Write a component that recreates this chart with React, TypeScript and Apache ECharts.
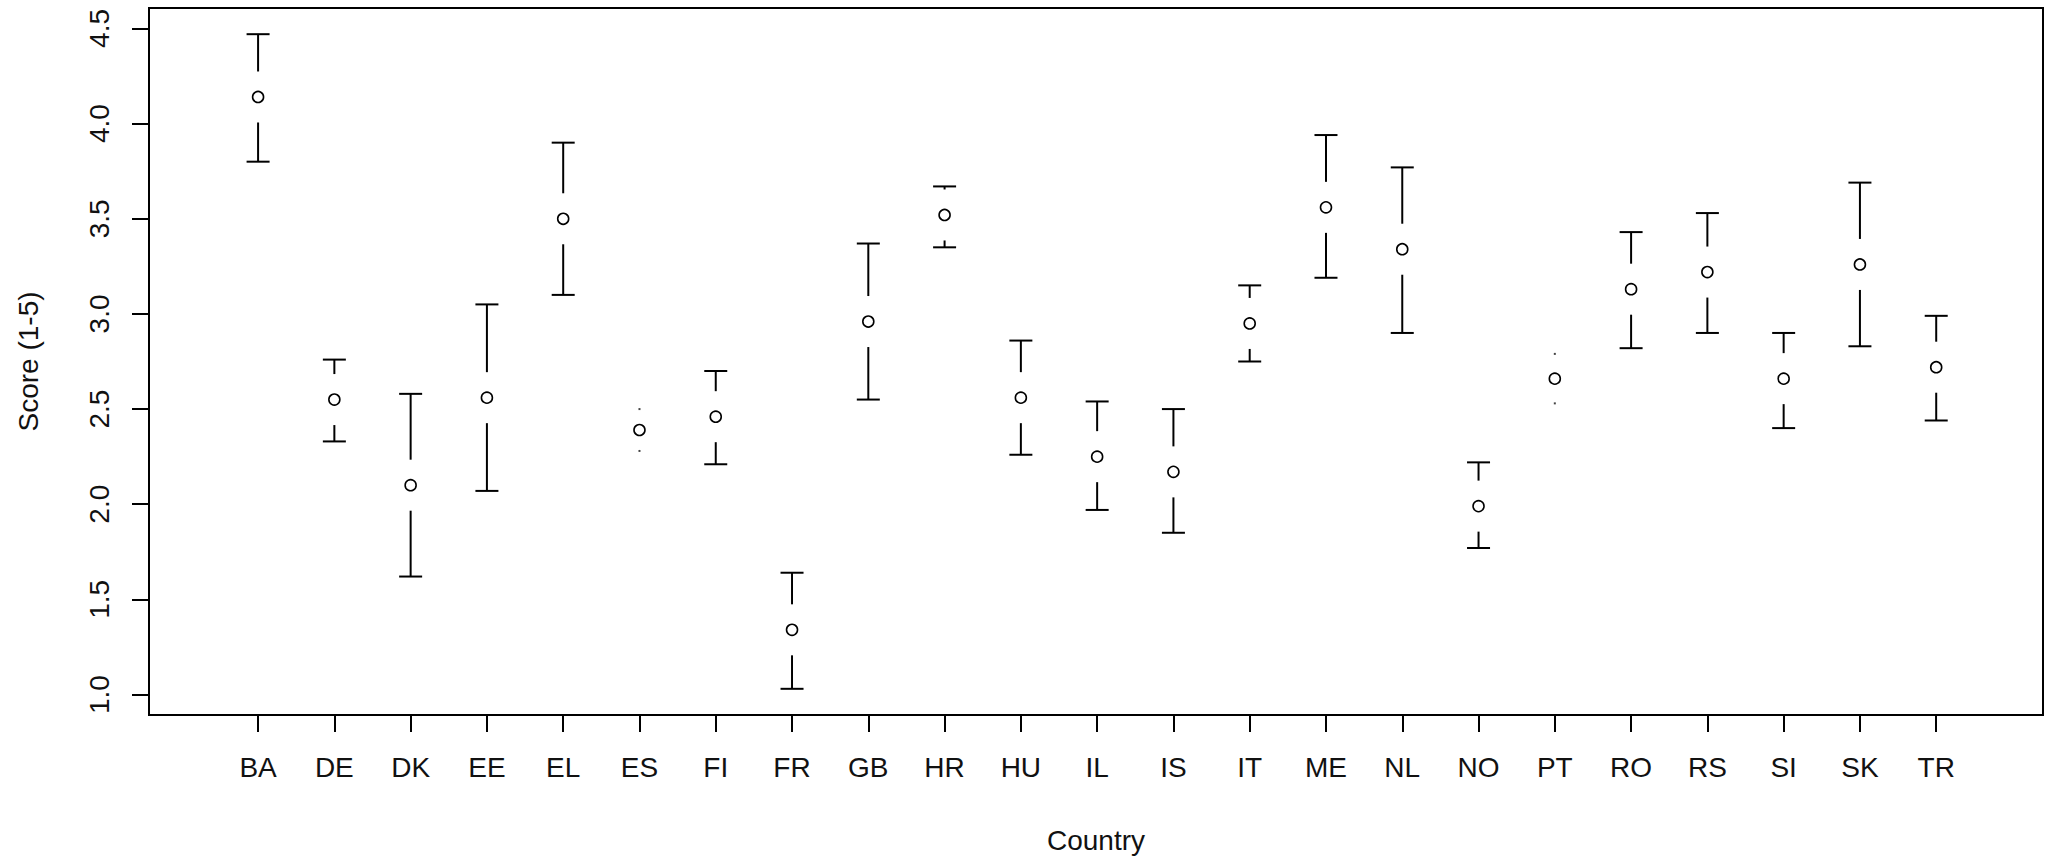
import React, { useEffect, useRef } from "react";
import * as echarts from "echarts";

const countries = ["BA", "DE", "DK", "EE", "EL", "ES", "FI", "FR", "GB", "HR", "HU", "IL", "IS", "IT", "ME", "NL", "NO", "PT", "RO", "RS", "SI", "SK", "TR"];
const means = [4.14, 2.55, 2.10, 2.56, 3.50, 2.39, 2.46, 1.34, 2.96, 3.52, 2.56, 2.25, 2.17, 2.95, 3.56, 3.34, 1.99, 2.66, 3.13, 3.22, 2.66, 3.26, 2.72];
const lowers = [3.80, 2.33, 1.62, 2.07, 3.10, 2.28, 2.21, 1.03, 2.55, 3.35, 2.26, 1.97, 1.85, 2.75, 3.19, 2.90, 1.77, 2.53, 2.82, 2.90, 2.40, 2.83, 2.44];
const uppers = [4.47, 2.76, 2.58, 3.05, 3.90, 2.50, 2.70, 1.64, 3.37, 3.67, 2.86, 2.54, 2.50, 3.15, 3.94, 3.77, 2.22, 2.79, 3.43, 3.53, 2.90, 3.69, 2.99];
const yTicks = [1.0, 1.5, 2.0, 2.5, 3.0, 3.5, 4.0, 4.5];
const xTitle = "Country";
const yTitle = "Score (1-5)";

const FONT = "'Liberation Sans', Arial, sans-serif";

export default function App() {
  const ref = useRef<HTMLDivElement>(null);
  useEffect(() => {
    if (!ref.current) return;
    const chart = echarts.init(ref.current, null, { renderer: "svg" });
    const positions = countries.map((_, i) => i + 1);
    const data = countries.map((_, i) => [positions[i], means[i], lowers[i], uppers[i]]);
    const dMin = Math.min(...lowers);
    const dMax = Math.max(...uppers);
    const ext = (dMax - dMin) * 0.04;
    const yMin = dMin - ext;
    const yMax = dMax + ext;

    const renderItem = (params: any, api: any) => {
      const x = api.value(0);
      const pm = api.coord([x, api.value(1)]);
      const pl = api.coord([x, api.value(2)]);
      const ph = api.coord([x, api.value(3)]);
      const cx = pm[0];
      const gap = 25.5;
      const cap = 11.5;
      const ls = { stroke: "#000", lineWidth: 2 };
      const children: any[] = [];
      if (pm[1] - ph[1] > gap) {
        children.push({ type: "line", shape: { x1: cx, y1: pm[1] - gap, x2: cx, y2: ph[1] }, style: ls });
        children.push({ type: "line", shape: { x1: cx - cap, y1: ph[1], x2: cx + cap, y2: ph[1] }, style: ls });
      } else {
        children.push({ type: "rect", shape: { x: cx - 1, y: ph[1] - 1, width: 2, height: 2 }, style: { fill: "#444" } });
      }
      if (pl[1] - pm[1] > gap) {
        children.push({ type: "line", shape: { x1: cx, y1: pm[1] + gap, x2: cx, y2: pl[1] }, style: ls });
        children.push({ type: "line", shape: { x1: cx - cap, y1: pl[1], x2: cx + cap, y2: pl[1] }, style: ls });
      } else {
        children.push({ type: "rect", shape: { x: cx - 1, y: pl[1] - 1, width: 2, height: 2 }, style: { fill: "#444" } });
      }
      children.push({ type: "circle", shape: { cx, cy: pm[1], r: 5.5 }, style: { fill: "#fff", stroke: "#000", lineWidth: 1.6 } });
      return { type: "group", children };
    };

    chart.setOption({
      animation: false,
      backgroundColor: "#fff",
      grid: {
        left: 149,
        right: 12,
        top: 8,
        bottom: 146,
        show: true,
        borderColor: "#000",
        borderWidth: 2,
        backgroundColor: "transparent",
      },
      xAxis: {
        type: "value",
        min: -0.43,
        max: 24.4,
        name: xTitle,
        nameLocation: "middle",
        nameGap: 111,
        nameTextStyle: { fontSize: 28, color: "#111", fontFamily: FONT },
        axisLine: { show: false, onZero: false },
        splitLine: { show: false },
        axisTick: { show: true, inside: false, length: 17, customValues: positions, lineStyle: { color: "#000", width: 2 } },
        axisLabel: {
          show: true,
          customValues: positions,
          margin: 38,
          fontSize: 28,
          color: "#111",
          fontFamily: FONT,
          formatter: (v: number) => countries[Math.round(v) - 1] ?? "",
        },
      },
      yAxis: {
        type: "value",
        min: yMin,
        max: yMax,
        name: yTitle,
        nameLocation: "middle",
        nameGap: 107,
        nameTextStyle: { fontSize: 28, color: "#111", fontFamily: FONT },
        axisLine: { show: false, onZero: false },
        splitLine: { show: false },
        axisTick: { show: true, inside: false, length: 17, customValues: yTicks, lineStyle: { color: "#000", width: 2 } },
        axisLabel: {
          show: true,
          customValues: yTicks,
          rotate: 90,
          margin: 36,
          fontSize: 28,
          color: "#111",
          fontFamily: FONT,
          formatter: (v: number) => v.toFixed(1),
        },
      },
      series: [
        {
          type: "custom",
          renderItem,
          data,
          clip: false,
          encode: { x: 0, y: [1, 2, 3] },
        },
      ],
    });
    return () => chart.dispose();
  }, []);
  return <div ref={ref} style={{ position: "fixed", left: 0, top: 0, width: 2055, height: 861 }} />;
}
